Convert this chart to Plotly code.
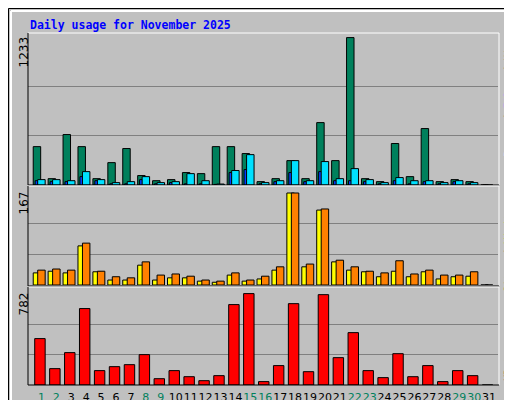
import plotly.graph_objects as go

days = list(range(1, 32))
hits = [321,53,422,321,53,187,305,79,36,45,104,95,321,321,263,28,53,204,53,522,204,1233,53,28,347,70,472,28,45,28,0]
files = [45,45,36,112,45,20,28,70,20,28,95,36,8,121,254,20,36,204,36,196,53,137,45,20,62,36,36,20,36,20,0]
pages = [36,28,28,70,36,10,10,45,10,20,10,10,5,104,129,10,28,104,28,112,36,36,28,10,36,10,28,10,28,10,0]
visits = [27,29,27,76,25,15,13,42,18,20,16,9,7,22,9,16,33,167,38,138,45,33,25,22,44,20,27,18,18,24,0]
sites = [22,25,22,71,24,9,9,36,9,13,13,7,5,18,7,11,27,167,33,136,42,27,24,15,25,15,24,11,15,16,0]
kbytes = [397,140,277,654,123,157,174,260,54,123,71,37,80,688,782,29,166,696,114,773,234,448,123,63,268,71,166,29,123,80,0]
weekend = {1,2,8,9,15,16,22,23,29,30}
tick_labels = [f'<span style="color:#00805C">{d}</span>' if d in weekend else str(d) for d in days]

W, H = 512, 400
def py(p): return 1 - p / H

fig = go.Figure()
line = dict(color="black", width=1)
fig.add_bar(x=days, y=hits, offset=-0.55, width=0.5, marker=dict(color="#00805C", line=line), xaxis="x", yaxis="y")
fig.add_bar(x=days, y=pages, offset=-0.42, width=0.2, marker=dict(color="#0040FF", line=line), xaxis="x", yaxis="y")
fig.add_bar(x=days, y=files, offset=-0.25, width=0.5, marker=dict(color="#00E0FF", line=line), xaxis="x", yaxis="y")
fig.add_bar(x=days, y=sites, offset=-0.55, width=0.5, marker=dict(color="#FFFF00", line=line), xaxis="x2", yaxis="y2")
fig.add_bar(x=days, y=visits, offset=-0.25, width=0.5, marker=dict(color="#FF8000", line=line), xaxis="x2", yaxis="y2")
fig.add_bar(x=days, y=kbytes, offset=-0.45, width=0.7, marker=dict(color="#FF0000", line=line), xaxis="x3", yaxis="y3")

xd = [20 / W, 490 / W]
xr = [0.1, 31.6]
common_x = dict(domain=xd, range=xr, showgrid=False, zeroline=False, showline=False, fixedrange=True, automargin=False)
grid = dict(showgrid=True, gridcolor="#808080", gridwidth=1, zeroline=False, showticklabels=False, ticks="", showline=False, automargin=False)
fig.update_layout(
    width=W, height=H, margin=dict(l=0, r=0, t=0, b=0, autoexpand=False),
    paper_bgcolor="#C0C0C0", plot_bgcolor="#C0C0C0", showlegend=False, barmode="overlay",
    font=dict(family="DejaVu Sans", size=12, color="black"),
    xaxis=dict(**common_x, anchor="y", showticklabels=False),
    xaxis2=dict(**common_x, anchor="y2", showticklabels=False),
    xaxis3=dict(**common_x, anchor="y3", tickmode="array", tickvals=days, ticktext=tick_labels,
                ticks="", tickangle=0, ticklabelstandoff=4,
                tickfont=dict(family="DejaVu Sans", size=11, color="black")),
    yaxis=dict(domain=[py(177), py(25)], range=[0, 1233 * 152 / 147.4], tickvals=[411, 822], **grid),
    yaxis2=dict(domain=[py(277), py(180)], range=[0, 167 * 97 / 92], tickvals=[56, 111], **grid),
    yaxis3=dict(domain=[py(377), py(281)], range=[0, 782 * 96 / 91.4], tickvals=[261, 521], **grid),
)

shapes = []
def ln(x0, y0, x1, y1, c, w=1):
    shapes.append(dict(type="line", xref="paper", yref="paper", x0=x0 / W, y0=py(y0), x1=x1 / W, y1=py(y1), line=dict(color=c, width=w)))
shapes.append(dict(type="rect", xref="paper", yref="paper", x0=0.5 / W, y0=py(399.5), x1=511.5 / W, y1=py(0.5), line=dict(color="black", width=1)))
ln(3, 3, 508, 3, "white", 2); ln(3, 3, 3, 396, "white", 2)
ln(508, 3, 508, 396, "#808080", 2); ln(3, 396, 508, 396, "#808080", 2)
for top, bot in [(25, 177), (178, 278), (279, 377)]:
    ln(20, top, 491, top, "white"); ln(491, top, 491, bot, "white")
    ln(20, top, 20, bot, "black"); ln(20, bot, 491, bot, "black")
fig.update_layout(shapes=shapes)

mono = "DejaVu Sans Mono"
ann = [
    dict(text="<b>Daily usage for November 2025</b>", x=20 / W, y=py(8), xanchor="left", yanchor="top",
         font=dict(family=mono, size=11.5, color="#0000FF")),
    dict(text="1233", x=15 / W, y=py(27), xanchor="center", yanchor="top", textangle=-90, font=dict(size=12)),
    dict(text="167", x=15 / W, y=py(182), xanchor="center", yanchor="top", textangle=-90, font=dict(size=12)),
    dict(text="782", x=15 / W, y=py(283), xanchor="center", yanchor="top", textangle=-90, font=dict(size=12)),
    dict(text='<span style="color:#00E0FF">Pages</span> / <span style="color:#0040FF">Files</span> / <span style="color:#00805C">Hits</span>',
         x=500 / W, y=py(27), xanchor="center", yanchor="top", textangle=-90, font=dict(family=mono, size=10, color="black")),
    dict(text='<span style="color:#FF8000">Sites</span> / <span style="color:#FFFF00">Visits</span>',
         x=500 / W, y=py(198), xanchor="center", yanchor="top", textangle=-90, font=dict(family=mono, size=10, color="black")),
    dict(text='<span style="color:#FF0000">KBytes</span>',
         x=500 / W, y=py(375), xanchor="center", yanchor="bottom", textangle=-90, font=dict(family=mono, size=10, color="black")),
]
for a in ann:
    a.update(xref="paper", yref="paper", showarrow=False)
fig.update_layout(annotations=ann)
fig.write_html("out.html")
